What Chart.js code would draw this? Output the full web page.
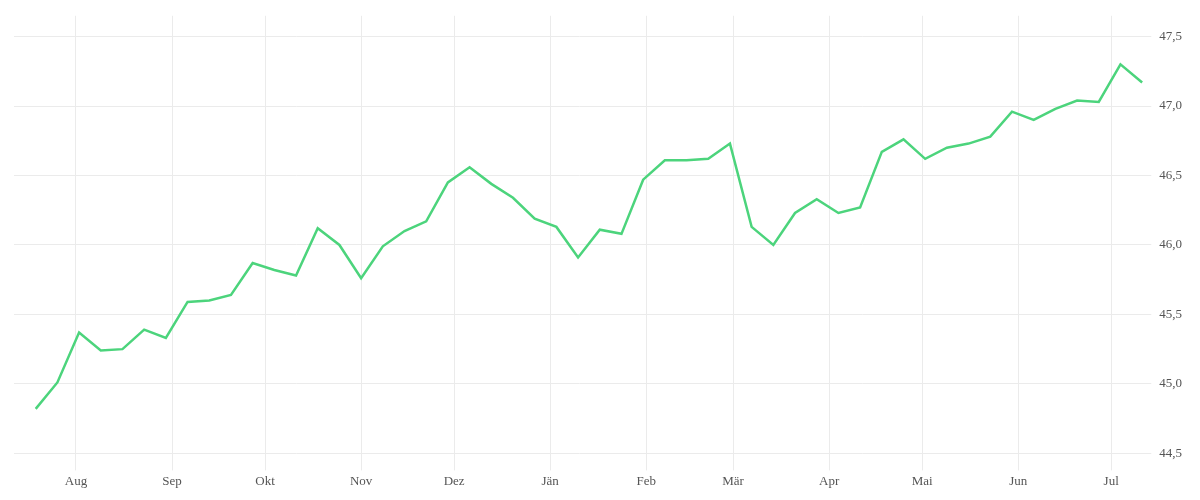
<!DOCTYPE html>
<html><head><meta charset="utf-8">
<script src="https://cdn.jsdelivr.net/npm/chart.js@4"></script>
<style>html,body{margin:0;background:#fff}#w{width:1200px;height:500px}</style>
</head><body><div id="w"><canvas id="c"></canvas></div>
<script>
const monthLabels=["Aug","Sep","Okt","Nov","Dez","Jän","Feb","Mär","Apr","Mai","Jun","Jul"];
const monthDays=[0,31,61,92,122,153,184,212,243,273,304,334];
const startDay=-13;
const values=[44.82,45.01,45.37,45.24,45.25,45.39,45.33,45.59,45.60,45.64,45.87,45.82,45.78,46.12,46.00,45.76,45.99,46.10,46.17,46.45,46.56,46.44,46.34,46.19,46.13,45.91,46.11,46.08,46.47,46.61,46.61,46.62,46.73,46.13,46.00,46.23,46.33,46.23,46.27,46.67,46.76,46.62,46.70,46.73,46.78,46.96,46.90,46.98,47.04,47.03,47.30,47.17];
const yTicks=[44.5,45.0,45.5,46.0,46.5,47.0,47.5];
const pts=values.map((v,i)=>({x:startDay+7*i,y:v}));
new Chart(document.getElementById('c'),{type:'line',
data:{datasets:[{data:pts,borderColor:'#4cd47c',borderWidth:2.5,pointRadius:0,tension:0}]},
options:{responsive:true,maintainAspectRatio:false,animation:false,
layout:{padding:{left:14,right:10,top:12,bottom:8}},
plugins:{legend:{display:false},tooltip:{enabled:false}},
scales:{
x:{type:'linear',min:-20,max:345,
afterBuildTicks:a=>{a.ticks=monthDays.map(v=>({value:v}));},
ticks:{autoSkip:false,maxRotation:0,color:'#555',font:{family:'Liberation Serif',size:13},callback:v=>monthLabels[monthDays.indexOf(v)]},
grid:{color:'#ebebeb',drawTicks:true,tickLength:6},border:{display:false}},
y:{position:'right',min:44.42,max:47.65,
afterBuildTicks:a=>{a.ticks=yTicks.map(v=>({value:v}));},
ticks:{color:'#555',padding:8,font:{family:'Liberation Serif',size:13},callback:v=>v.toFixed(1).replace('.',',')},
grid:{color:'#ebebeb',drawTicks:true,tickLength:6},border:{display:false}}
}}});
</script></body></html>
